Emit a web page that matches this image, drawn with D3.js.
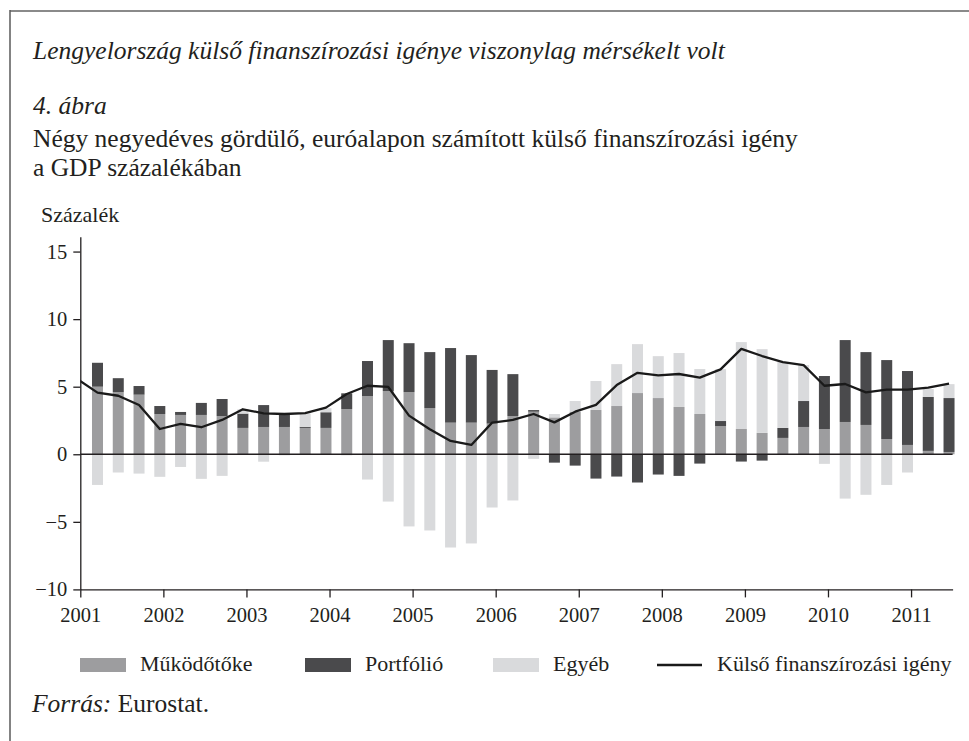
<!DOCTYPE html>
<meta charset="utf-8">
<style>
body { margin: 0; background: #fff; }
svg { display: block; font-family: "Liberation Serif", "Times New Roman", serif; }
.axis .domain, .axis line { stroke: #231f20; stroke-width: 1.3; }
.axis text { font-family: "Liberation Serif", serif; font-size: 20.5px; fill: #231f20; }
</style>
<svg width="969" height="741"></svg>
<script src="https://cdn.jsdelivr.net/npm/d3@7/dist/d3.min.js"></script>
<script>

// quarterly data, 2001Q1 - 2011Q2, four-quarter rolling, % of GDP
var quarters = d3.range(2001, 2012).flatMap(function(y) {
  return [1, 2, 3, 4].map(function(q) { return y + "Q" + q; });
}).slice(0, 42);

var mukodotoke = [5.0, 4.6, 4.41, 2.98, 2.91, 2.91, 2.83, 1.95, 2.02, 2.02, 1.95, 1.95,
  3.35, 4.31, 4.68, 4.6, 3.42, 2.34, 2.34, 2.27, 2.83, 3.15, 2.73, 3.15, 3.28, 3.57,
  4.53, 4.16, 3.5, 2.98, 2.09, 1.87, 1.58, 1.21, 2.02, 1.87, 2.39, 2.17, 1.13, 0.69, 0.25, 0.17];

var portfolio = [1.77, 1.03, 0.64, 0.59, 0.22, 0.89, 1.26, 1.06, 1.62, 0.92, 0.08, 1.16,
  1.16, 2.59, 3.77, 3.62, 4.14, 5.52, 5.0, 3.97, 3.1, 0.12, -0.62, -0.84, -1.8, -1.65,
  -2.09, -1.5, -1.6, -0.69, 0.37, -0.54, -0.47, 0.74, 1.92, 3.92, 6.06, 5.39, 5.84, 5.47, 3.99, 3.99];

var egyeb = [-2.27, -1.35, -1.43, -1.67, -0.94, -1.82, -1.6, 0.32, -0.55, -0.08, 0.99, 0.3,
  -0.08, -1.87, -3.5, -5.34, -5.64, -6.9, -6.6, -3.94, -3.42, -0.34, 0.25, 0.79, 2.14, 3.1,
  3.62, 3.1, 3.99, 3.33, 3.84, 6.43, 6.2, 4.88, 2.66, -0.71, -3.28, -3.0, -2.27, -1.35, 0.59, 1.03];

// line starts one quarter earlier (2000Q4), clipped at the axis
var kulsoStart = "2000Q4";
var kulso = [5.6, 4.56, 4.33, 3.65, 1.87, 2.25, 2.0, 2.54, 3.33, 3.03, 2.98, 3.05, 3.45,
  4.46, 5.07, 4.98, 2.86, 1.85, 0.99, 0.69, 2.34, 2.54, 2.98, 2.36, 3.15, 3.65, 5.12,
  6.03, 5.84, 5.94, 5.67, 6.28, 7.8, 7.27, 6.82, 6.6, 5.07, 5.2, 4.58, 4.78, 4.78, 4.93, 5.22];

var years = [2001, 2002, 2003, 2004, 2005, 2006, 2007, 2008, 2009, 2010, 2011];
var yTicks = [-10, -5, 0, 5, 10, 15];

var keys = ["mukodotoke", "portfolio", "egyeb"];
var labels = ["Működőtőke", "Portfólió", "Egyéb", "Külső finanszírozási igény"];
var colors = ["#9d9d9f", "#4a4a4c", "#d9dadc"];

var svg = d3.select("svg"),
    plotL = 80.3, plotR = 952.6, plotT = 236.7, plotB = 589.4;

var x = d3.scaleLinear().domain([2001, 2011.5]).range([plotL, plotR]);
var y = d3.scaleLinear().domain([-10, 16.1]).range([plotB, plotT]);
var z = d3.scaleOrdinal().domain(keys).range(colors);

// quarter label -> position (bars sit late in the quarter)
function qx(label) {
  var yr = +label.slice(0, 4), q = +label.slice(5);
  return x(yr + (q - 1) * 0.25 + 0.207);
}
var barW = (x(2001.25) - x(2001)) * 0.53;

var data = quarters.map(function(q, i) {
  return {q: q, mukodotoke: mukodotoke[i], portfolio: portfolio[i], egyeb: egyeb[i]};
});

// frame
svg.append("line").attr("x1", 10).attr("x2", 969).attr("y1", 11).attr("y2", 11)
    .attr("stroke", "#8a8a8a").attr("stroke-width", 2);
svg.append("line").attr("x1", 10).attr("x2", 10).attr("y1", 10).attr("y2", 741)
    .attr("stroke", "#5a5a5a").attr("stroke-width", 1.5);

// titles
var head = svg.append("g").attr("fill", "#231f20").attr("font-size", 25.5);
head.append("text").attr("x", 33).attr("y", 59).attr("font-style", "italic")
    .text("Lengyelország külső finanszírozási igénye viszonylag mérsékelt volt");
head.append("text").attr("x", 33).attr("y", 114).attr("font-style", "italic")
    .text("4. ábra");
head.append("text").attr("x", 33).attr("y", 147)
    .text("Négy negyedéves gördülő, euróalapon számított külső finanszírozási igény");
head.append("text").attr("x", 33).attr("y", 176)
    .text("a GDP százalékában");
svg.append("text").attr("x", 41).attr("y", 222)
    .attr("font-size", 22).attr("fill", "#231f20")
    .text("Százalék");

// bars
svg.append("g")
  .selectAll("g")
  .data(d3.stack().keys(keys).offset(d3.stackOffsetDiverging)(data))
  .enter().append("g")
    .attr("fill", function(d) { return z(d.key); })
  .selectAll("rect")
  .data(function(d) { return d; })
  .enter().append("rect")
    .attr("x", function(d) { return qx(d.data.q) - barW / 2; })
    .attr("y", function(d) { return y(Math.max(d[0], d[1])); })
    .attr("height", function(d) { return Math.abs(y(d[0]) - y(d[1])); })
    .attr("width", barW);

// zero line
svg.append("line")
    .attr("x1", plotL).attr("x2", plotR)
    .attr("y1", y(0)).attr("y2", y(0))
    .attr("stroke", "#231f20").attr("stroke-width", 1.3);

// line
svg.append("clipPath").attr("id", "plot")
  .append("rect").attr("x", plotL).attr("y", plotT)
    .attr("width", plotR - plotL).attr("height", plotB - plotT);

var lineQuarters = [kulsoStart].concat(quarters);
svg.append("path")
    .datum(kulso)
    .attr("clip-path", "url(#plot)")
    .attr("fill", "none")
    .attr("stroke", "#1a1a1a")
    .attr("stroke-width", 2.3)
    .attr("stroke-linejoin", "round")
    .attr("d", d3.line()
      .x(function(d, i) { return qx(lineQuarters[i]); })
      .y(function(d) { return y(d); }));

// axes
svg.append("g")
    .attr("class", "axis")
    .attr("transform", "translate(" + plotL + ",0)")
    .call(d3.axisLeft(y).tickValues(yTicks).tickSize(7).tickSizeOuter(0).tickPadding(6)
      .tickFormat(function(d) { return d < 0 ? "\u2212" + Math.abs(d) : d; }));

svg.append("g")
    .attr("class", "axis")
    .attr("transform", "translate(0," + plotB + ")")
    .call(d3.axisBottom(x).tickValues(years).tickSize(8).tickSizeOuter(0).tickPadding(10)
      .tickFormat(d3.format("d")));

svg.selectAll(".axis").attr("font-family", null).attr("font-size", null);

// legend
var legX = [80, 305, 493, 657];
var legend = svg.append("g").attr("font-size", 22).attr("fill", "#231f20");
keys.forEach(function(k, i) {
  legend.append("rect")
      .attr("x", legX[i]).attr("y", 658).attr("width", 46).attr("height", 14)
      .attr("fill", z(k));
  legend.append("text")
      .attr("x", legX[i] + 60).attr("y", 671)
      .text(labels[i]);
});
legend.append("line")
    .attr("x1", legX[3]).attr("x2", legX[3] + 45).attr("y1", 665).attr("y2", 665)
    .attr("stroke", "#1a1a1a").attr("stroke-width", 2.3);
legend.append("text")
    .attr("x", legX[3] + 60).attr("y", 671)
    .text(labels[3]);

// source
var src = svg.append("text").attr("x", 32).attr("y", 712)
    .attr("font-size", 25.5).attr("fill", "#231f20");
src.append("tspan").attr("font-style", "italic").text("Forrás:");
src.append("tspan").text(" Eurostat.");

</script>
